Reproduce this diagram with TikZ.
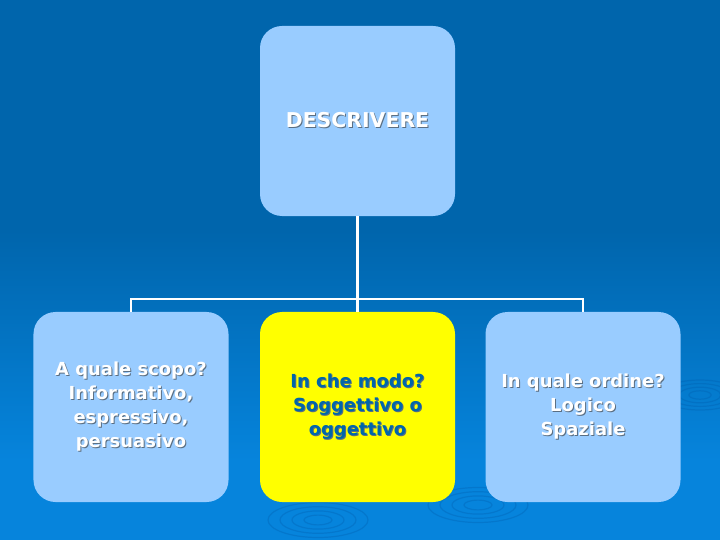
\documentclass[tikz,border=0pt]{standalone}
\usepackage{fontspec}
\setmainfont{DejaVu Sans}
\usetikzlibrary{positioning}

\definecolor{bgtop}{RGB}{0,101,172}
\definecolor{bgbot}{RGB}{6,132,220}
\definecolor{ripple}{RGB}{0,90,170}
\definecolor{boxblue}{RGB}{153,204,255}
\definecolor{boxyellow}{RGB}{255,255,0}
\definecolor{txtblue}{RGB}{0,102,170}
\definecolor{txtshadow}{RGB}{90,110,130}

\newcommand\shtext[1]{\makebox[0pt][l]{\kern1bp\raisebox{-1bp}{\color{txtshadow}#1}}#1}

\begin{document}
\begin{tikzpicture}[
  x=1bp, y=-1bp,
  card/.style={rounded corners=22bp, minimum width=195bp, minimum height=190bp, inner sep=0pt, align=center, fill=boxblue, text=white},
  title/.style={card, font=\bfseries\fontsize{20.5}{24}\selectfont},
  question/.style={card, font=\bfseries\fontsize{18}{24}\selectfont},
  link/.style={draw=white, line width=2.5bp},
  wave/.style={draw=ripple, opacity=0.3, line width=1.2bp}
]
\useasboundingbox (0,0) rectangle (720,540);
% background
\fill[bgtop] (0,0) rectangle (720,231);
\shade[top color=bgtop, bottom color=bgbot] (0,230) rectangle (720,461);
\fill[bgbot] (0,460) rectangle (720,540);
\foreach \r in {14,26,38,50} {
  \draw[wave] (318,520) ellipse ({\r} and {0.35*\r});
  \draw[wave] (478,505) ellipse ({\r} and {0.35*\r});
  \draw[wave] (700,395) ellipse ({0.8*\r} and {0.3*\r});
}

\node[title] (descr) at (357.5,121) {\shtext{DESCRIVERE}};

\node[question] (scopo) at (131,407) {\shtext{A quale scopo?}\\\shtext{Informativo,}\\\shtext{espressivo,}\\\shtext{persuasivo}};
\node[question, fill=boxyellow, text=txtblue] (modo) at (357.5,407) {\shtext{In che modo?}\\\shtext{Soggettivo o}\\\shtext{oggettivo}};
\node[question] (ordine) at (583,407) {\shtext{In quale ordine?}\\\shtext{Logico}\\\shtext{Spaziale}};

\coordinate (bus) at (357.5,299);
\draw[link] (descr.south) -- (bus);
\draw[link] (bus) -| (scopo.north);
\draw[link] (bus) -| (ordine.north);
\draw[link] (bus) -- (modo.north);
\end{tikzpicture}
\end{document}
